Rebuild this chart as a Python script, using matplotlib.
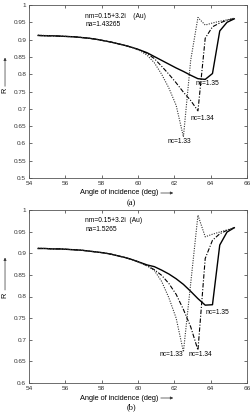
import matplotlib
matplotlib.use("Agg")
import matplotlib.pyplot as plt

plt.rcParams['font.family'] = ['Liberation Sans', 'DejaVu Sans']

angle = [54.5, 54.9, 55.3, 55.7, 56.1, 56.5, 56.9, 57.3, 57.7, 58.1, 58.5, 58.9, 59.3, 59.7,
         60.1, 60.5, 60.9, 61.3, 61.7, 62.1, 62.5, 62.9, 63.3, 63.7, 64.1, 64.5, 64.9, 65.3]

# panel (a): na = 1.43265
a_nc135 = [0.912, 0.911, 0.911, 0.910, 0.909, 0.908, 0.906, 0.904, 0.901, 0.897, 0.893, 0.888, 0.883, 0.877,
           0.870, 0.862, 0.851, 0.840, 0.829, 0.818, 0.808, 0.797, 0.787, 0.785, 0.802, 0.925, 0.950, 0.960]
a_nc134 = [0.912, 0.911, 0.911, 0.910, 0.909, 0.908, 0.906, 0.904, 0.901, 0.897, 0.893, 0.888, 0.883, 0.877,
           0.870, 0.860, 0.845, 0.823, 0.800, 0.775, 0.748, 0.724, 0.694, 0.904, 0.937, 0.948, 0.956, 0.961]
a_nc133 = [0.913, 0.912, 0.911, 0.910, 0.909, 0.908, 0.906, 0.904, 0.901, 0.897, 0.893, 0.888, 0.883, 0.877,
           0.868, 0.855, 0.833, 0.800, 0.760, 0.710, 0.619, 0.840, 0.964, 0.942, 0.948, 0.953, 0.957, 0.962]

# panel (b): na = 1.5265
b_nc135 = [0.911, 0.911, 0.910, 0.910, 0.909, 0.908, 0.907, 0.905, 0.903, 0.901, 0.898, 0.894, 0.890, 0.885,
           0.879, 0.873, 0.869, 0.861, 0.852, 0.841, 0.828, 0.812, 0.795, 0.780, 0.781, 0.919, 0.949, 0.959]
b_nc134 = [0.911, 0.911, 0.910, 0.910, 0.909, 0.908, 0.907, 0.905, 0.903, 0.901, 0.898, 0.894, 0.890, 0.885,
           0.879, 0.871, 0.862, 0.849, 0.830, 0.805, 0.770, 0.730, 0.676, 0.888, 0.930, 0.945, 0.953, 0.959]
b_nc133 = [0.912, 0.911, 0.910, 0.910, 0.909, 0.908, 0.907, 0.905, 0.903, 0.901, 0.898, 0.894, 0.890, 0.885,
           0.878, 0.871, 0.860, 0.835, 0.797, 0.750, 0.672, 0.830, 0.988, 0.938, 0.944, 0.949, 0.954, 0.959]

x_ticks = [54, 56, 58, 60, 62, 64, 66]
a_yticks = [0.5, 0.55, 0.6, 0.65, 0.7, 0.75, 0.8, 0.85, 0.9, 0.95, 1.0]
b_yticks = [0.6, 0.65, 0.7, 0.75, 0.8, 0.85, 0.9, 0.95, 1.0]

W, H = 252, 412
fig = plt.figure(figsize=(W / 100, H / 100), dpi=100)

def px_axes(l, t, r, b):
    return fig.add_axes([l / W, 1 - b / H, (r - l) / W, (b - t) / H])

ax1 = px_axes(29, 5, 247, 178)
ax2 = px_axes(29, 210, 247, 383)

panels = [
    (ax1, a_nc135, a_nc134, a_nc133, a_yticks, (0.5, 1.0), "na=1.43265", "nm=0.15+3.2i    (Au)",
     [(63.15, 0.772, "nc=1.35"), (62.9, 0.672, "nc=1.34"), (61.65, 0.605, "nc=1.33")],
     (0.968, 0.945), (0.752, 0.765, 0.848), 193, "(a)", 203),
    (ax2, b_nc135, b_nc134, b_nc133, b_yticks, (0.6, 1.0), "na=1.5265", "nm=0.15+3.2i  (Au)",
     [(63.7, 0.763, "nc=1.35"), (61.2, 0.667, "nc=1.33"), (62.8, 0.667, "nc=1.34")],
     (0.975, 0.954), (0.802, 0.815, 0.89), 398, "(b)", 407),
]

for (ax, s135, s134, s133, yt, ylim, na, nm, labels, txty, rpos, xly, tag, tagy) in panels:
    ax.plot(angle, s135, color='black', lw=1.0, ls='-')
    ax.plot(angle, s134, color='black', lw=0.8, ls=(0, (4, 1.5, 1, 1.5)))
    ax.plot(angle, s133, color='#333333', lw=0.8, ls=(0, (1, 1.2)))
    ax.set_xlim(54, 66)
    ax.set_ylim(*ylim)
    ax.set_xticks(x_ticks)
    ax.set_yticks(yt)
    ax.set_xticklabels([f"{v:g}" for v in x_ticks])
    ax.set_yticklabels([f"{v:g}" for v in yt])
    ax.tick_params(direction='in', length=2, width=0.5, top=True, right=True,
                   labelsize=4.6, pad=2, colors='#333333')
    for sp in ax.spines.values():
        sp.set_linewidth(0.6)
        sp.set_color('#555555')
    ax.text(57.1, txty[0], nm, fontsize=4.8, va='center', ha='left')
    ax.text(57.1, txty[1], na, fontsize=4.8, va='center', ha='left')
    for (lx, ly, lt) in labels:
        ax.text(lx, ly, lt, fontsize=4.8, va='center', ha='left')
    # R label with arrow
    ax.text(-0.11, rpos[0], "R", rotation=90, fontsize=5.2, ha='center', va='center',
            transform=ax.get_yaxis_transform())
    ax.annotate("", xy=(-0.11, rpos[2]), xytext=(-0.11, rpos[1]),
                xycoords=ax.get_yaxis_transform(), textcoords=ax.get_yaxis_transform(),
                arrowprops=dict(arrowstyle='-|>', lw=0.5, color='#333333',
                                mutation_scale=4, shrinkA=0, shrinkB=0),
                annotation_clip=False)
    # x label with arrow
    fig.text(80 / W, 1 - xly / H, "Angle of incidence (deg)", fontsize=5.3, ha='left', va='center')
    fig.patches.append(matplotlib.patches.FancyArrowPatch(
        (158 / W, 1 - xly / H), (176 / W, 1 - xly / H), transform=fig.transFigure,
        arrowstyle='-|>', mutation_scale=4, lw=0.5, color='#333333'))
    fig.text(131 / W, 1 - tagy / H, tag, fontsize=6, ha='center', va='center',
             family=['Liberation Serif', 'DejaVu Serif'])

fig.savefig("out.png", dpi=100)
